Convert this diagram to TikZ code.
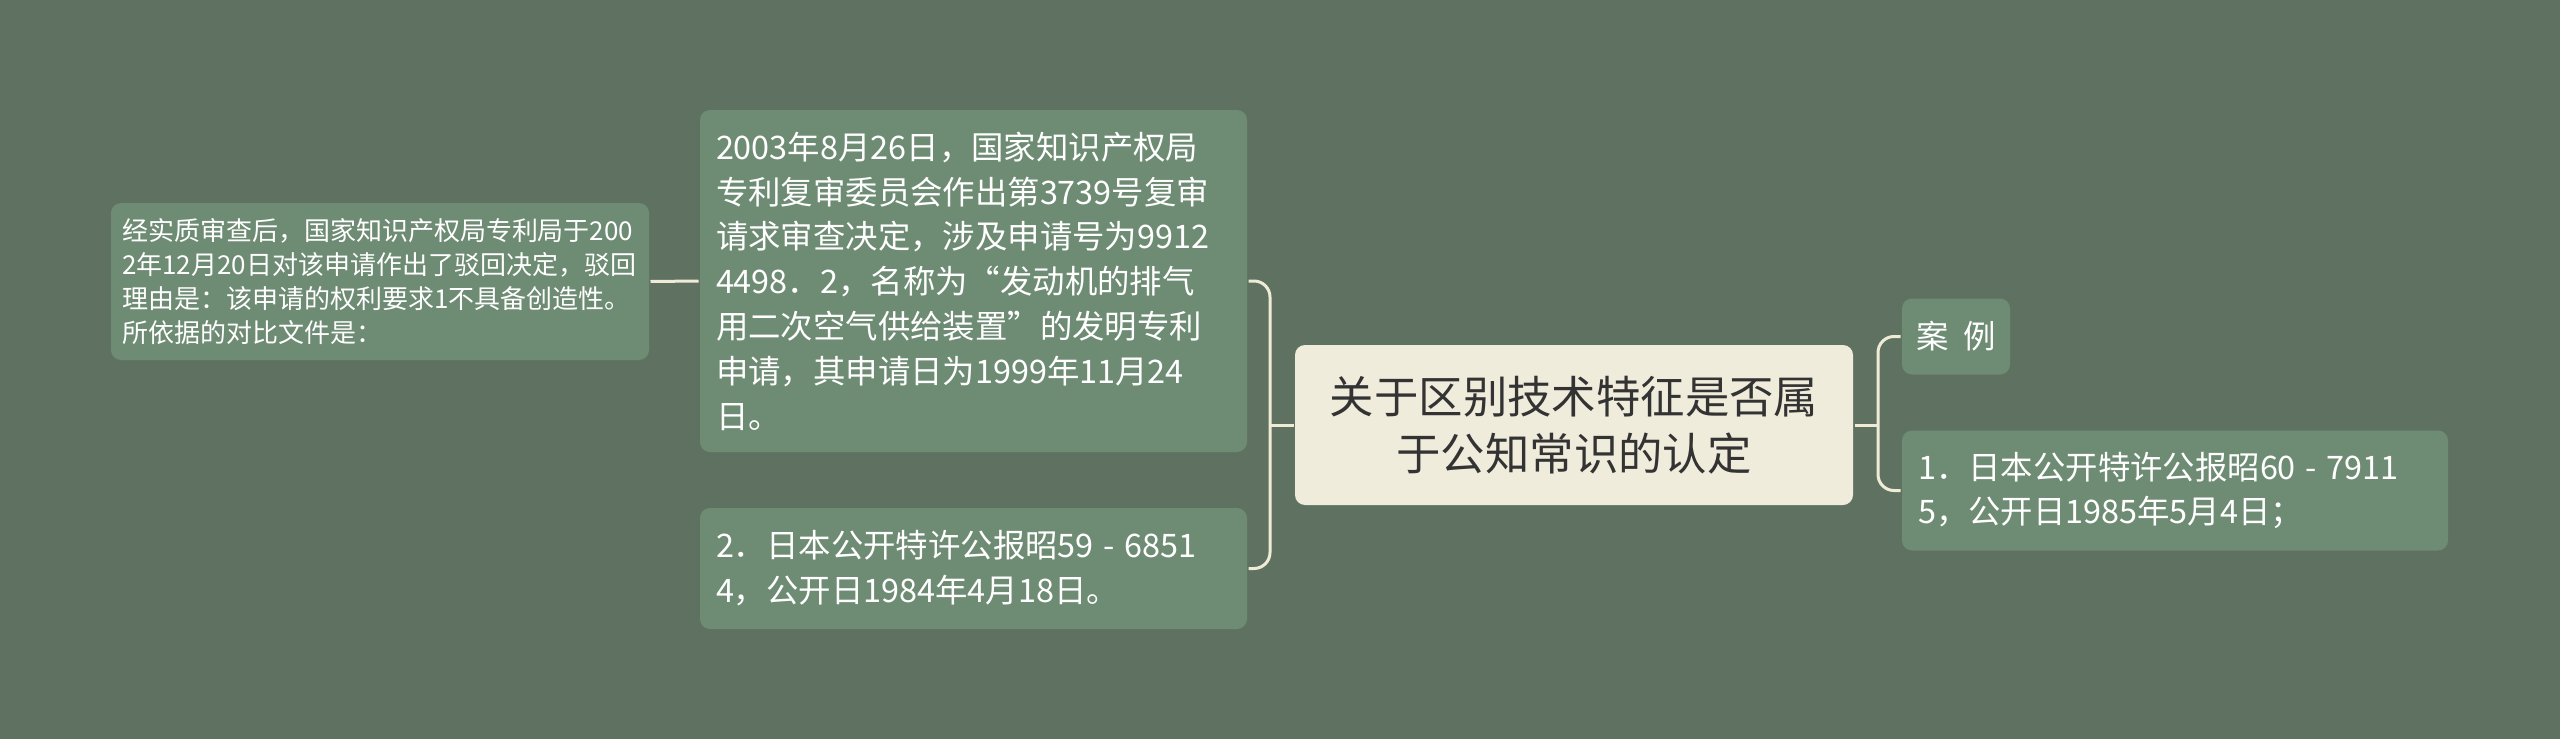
\documentclass[tikz,border=0pt]{standalone}
\usepackage{fontspec}
\setmainfont{Noto Sans CJK SC}
\usepackage{tikz}
\definecolor{mapbg}{RGB}{95,114,98}
\definecolor{leafgreen}{RGB}{110,139,116}
\definecolor{topiccream}{RGB}{240,236,220}
\definecolor{topictext}{RGB}{51,51,51}
\definecolor{linkcream}{RGB}{240,235,215}
\newcommand{\numdash}{\kern0.3em-\kern0.3em}
\tikzset{every path/.style={line width=1.5pt}}
\tikzset{
  leaf/.style={fill=leafgreen, text=white, rounded corners=5pt, align=left,
    inner xsep=8pt, inner ysep=0pt, font=\fontsize{16.2pt}{22.4pt}\selectfont},
  smallleaf/.style={leaf, inner xsep=5.5pt, font=\fontsize{13pt}{17pt}\selectfont},
  topic/.style={fill=topiccream, text=topictext, rounded corners=5pt, align=center,
    inner sep=0pt, font=\fontsize{22.2pt}{28.4pt}\selectfont},
  link/.style={draw=linkcream, rounded corners=8pt}
}

\begin{document}
\begin{tikzpicture}[x=0.5pt,y=-0.5pt]
\fill[mapbg] (0,0) rectangle (2560,739);
\useasboundingbox (0,0) rectangle (2560,739);

\node[topic, minimum width=279pt, minimum height=80pt] (root) at (1574,425)
  {关于区别技术特征是否属\\于公知常识的认定};

\node[leaf, align=center, inner xsep=0pt, minimum width=54pt, minimum height=38pt] (case) at (1956,336.5)
  {案\hspace{0.45em}例};
\node[leaf, text width=257pt, minimum height=60pt] (ref1) at (2175,490.5)
  {1．日本公开特许公报昭60\numdash7911\\5，公开日1985年5月4日；};

\node[leaf, text width=257.5pt, minimum height=171pt] (decision) at (973.5,281)
  {2003年8月26日，国家知识产权局\\专利复审委员会作出第3739号复审\\请求审查决定，涉及申请号为9912\\4498．2，名称为“发动机的排气\\用二次空气供给装置”的发明专利\\申请，其申请日为1999年11月24\\日。};
\node[leaf, text width=257.5pt, minimum height=60.5pt] (ref2) at (973.5,568.5)
  {2．日本公开特许公报昭59\numdash6851\\4，公开日1984年4月18日。};

\node[smallleaf, text width=258pt, minimum height=78.5pt] (rejection) at (380,281.5)
  {经实质审查后，国家知识产权局专利局于200\\2年12月20日对该申请作出了驳回决定，驳回\\理由是：该申请的权利要求1不具备创造性。\\所依据的对比文件是：};

\coordinate (lj) at (1270,425);
\coordinate (rj) at (1878,425);
\draw[link] (root.west) -- (lj);
\draw[link] (decision.east) -| (lj) |- (ref2.east);
\draw[link] (root.east) -- (rj);
\draw[link] (case.west) -| (rj) |- (ref1.west);
\draw[link] (rejection.east) -- (decision.west);
\end{tikzpicture}
\end{document}
